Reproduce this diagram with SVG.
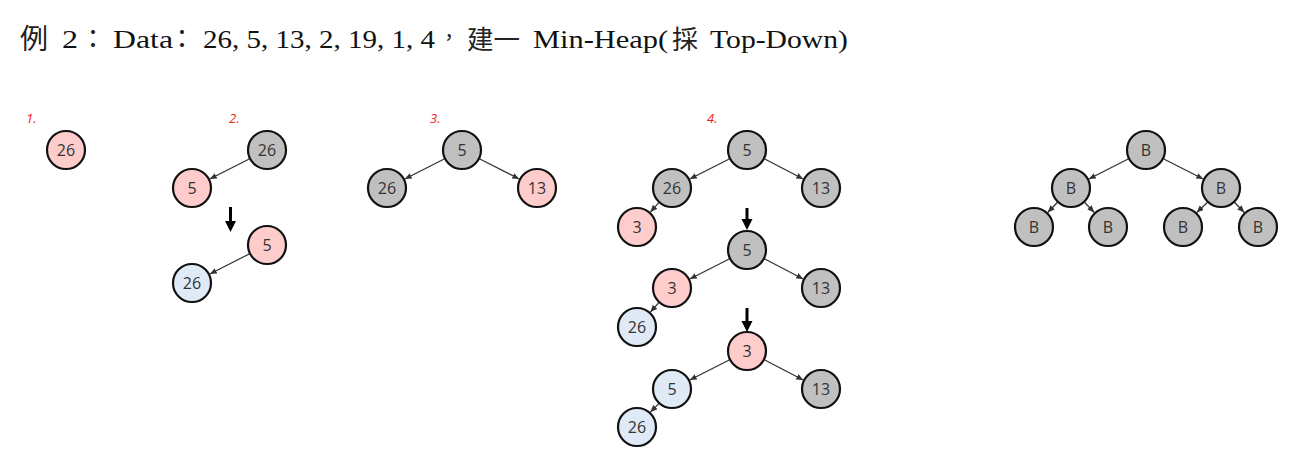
<svg xmlns="http://www.w3.org/2000/svg" width="1296" height="465" viewBox="0 0 1296 465">
<style>
.t{font-family:"Liberation Serif","Times New Roman",serif;font-size:26px;fill:#111}
.c{font-family:"Noto Sans CJK TC","Noto Sans CJK SC",sans-serif;fill:#222}
.lbl{font-family:"Open Sans","Noto Sans",sans-serif;font-size:13px;font-style:italic;fill:#f52020}
.n circle{stroke:#111;stroke-width:2.2}
.n text{font-family:"Open Sans","Noto Sans",sans-serif;font-size:16px;fill:#333;text-anchor:middle}
.pk{fill:#ffcccc}.gy{fill:#c0c0c0}.bl{fill:#dfeaf6}
.e{stroke:#333;stroke-width:1.3;fill:none;marker-end:url(#ah)}
.big{stroke:#000;stroke-width:3;fill:none}
</style>
<defs>
<marker id="ah" markerUnits="userSpaceOnUse" markerWidth="8" markerHeight="7" refX="7" refY="3" orient="auto"><path d="M0,0 L7,3 L0,6 z" fill="#333"/></marker>
</defs>
<rect width="1296" height="465" fill="#fff"/>
<g id="title">
<text class="c" x="20" y="49" font-size="28">例</text>
<text class="t" x="62" y="48" textLength="16" lengthAdjust="spacingAndGlyphs">2</text>
<text class="c" x="80" y="48" font-size="26">：</text>
<text class="t" x="113" y="48" textLength="60" lengthAdjust="spacingAndGlyphs">Data</text>
<text class="c" x="169" y="48" font-size="26">：</text>
<text class="t" x="203" y="48" textLength="232" lengthAdjust="spacingAndGlyphs">26, 5, 13, 2, 19, 1, 4</text>
<text class="c" x="439" y="45" font-size="20">，</text>
<text class="c" x="467" y="49" font-size="26" textLength="53" lengthAdjust="spacingAndGlyphs">建一</text>
<text class="t" x="533" y="48" textLength="135" lengthAdjust="spacingAndGlyphs">Min-Heap(</text>
<text class="c" x="672" y="49" font-size="26">採</text>
<text class="t" x="710" y="48" textLength="138" lengthAdjust="spacingAndGlyphs">Top-Down)</text>
</g>
<g id="labels">
<text class="lbl" x="26" y="123">1.</text>
<text class="lbl" x="229" y="123">2.</text>
<text class="lbl" x="430" y="123">3.</text>
<text class="lbl" x="707" y="123">4.</text>
</g>
<g id="connectors">
<line class="e" x1="249.2" y1="159" x2="209.8" y2="179"/>
<line class="e" x1="249.2" y1="254" x2="209.8" y2="274"/>
<line class="e" x1="444.2" y1="159" x2="404.8" y2="179"/>
<line class="e" x1="479.8" y1="159" x2="519.2" y2="179"/>
<line class="e" x1="729.2" y1="159" x2="689.8" y2="179"/>
<line class="e" x1="764.8" y1="159" x2="803.2" y2="179"/>
<line class="e" x1="658.6" y1="202.9" x2="650.4" y2="212.1"/>
<line class="e" x1="729.2" y1="259" x2="689.8" y2="279"/>
<line class="e" x1="764.8" y1="259" x2="803.2" y2="279"/>
<line class="e" x1="658.6" y1="302.9" x2="650.4" y2="312.1"/>
<line class="e" x1="729.2" y1="360" x2="689.8" y2="380"/>
<line class="e" x1="764.8" y1="360" x2="803.2" y2="380"/>
<line class="e" x1="658.6" y1="403.9" x2="650.4" y2="412.1"/>
<line class="e" x1="1128.2" y1="159" x2="1088.8" y2="179"/>
<line class="e" x1="1163.8" y1="159" x2="1203.2" y2="179"/>
<line class="e" x1="1057.3" y1="202.5" x2="1047.7" y2="212.5"/>
<line class="e" x1="1084.7" y1="202.5" x2="1094.3" y2="212.5"/>
<line class="e" x1="1207.3" y1="202.5" x2="1196.7" y2="212.5"/>
<line class="e" x1="1234.7" y1="202.5" x2="1244.3" y2="212.5"/>
<line class="big" x1="230.5" y1="207" x2="230.5" y2="223"/>
<polygon points="225,221 236,221 230.5,232" fill="#000"/>
<line class="big" x1="747" y1="208" x2="747" y2="221"/>
<polygon points="741.5,219 752.5,219 747,230" fill="#000"/>
<line class="big" x1="747" y1="308" x2="747" y2="323"/>
<polygon points="741.5,321 752.5,321 747,332" fill="#000"/>
</g>
<g id="s1-26" class="n"><circle class="pk" cx="66" cy="150" r="19"/><text x="66" y="155.5">26</text></g>
<g id="s2a-26" class="n"><circle class="gy" cx="267" cy="150" r="19"/><text x="267" y="155.5">26</text></g>
<g id="s2a-5" class="n"><circle class="pk" cx="192" cy="188" r="19"/><text x="192" y="193.5">5</text></g>
<g id="s2b-5" class="n"><circle class="pk" cx="267" cy="245" r="19"/><text x="267" y="250.5">5</text></g>
<g id="s2b-26" class="n"><circle class="bl" cx="192" cy="283" r="19"/><text x="192" y="288.5">26</text></g>
<g id="s3-5" class="n"><circle class="gy" cx="462" cy="150" r="19"/><text x="462" y="155.5">5</text></g>
<g id="s3-26" class="n"><circle class="gy" cx="387" cy="188" r="19"/><text x="387" y="193.5">26</text></g>
<g id="s3-13" class="n"><circle class="pk" cx="537" cy="188" r="19"/><text x="537" y="193.5">13</text></g>
<g id="s4a-5" class="n"><circle class="gy" cx="747" cy="150" r="19"/><text x="747" y="155.5">5</text></g>
<g id="s4a-26" class="n"><circle class="gy" cx="672" cy="188" r="19"/><text x="672" y="193.5">26</text></g>
<g id="s4a-13" class="n"><circle class="gy" cx="821" cy="188" r="19"/><text x="821" y="193.5">13</text></g>
<g id="s4a-3" class="n"><circle class="pk" cx="637" cy="227" r="19"/><text x="637" y="232.5">3</text></g>
<g id="s4b-5" class="n"><circle class="gy" cx="747" cy="250" r="19"/><text x="747" y="255.5">5</text></g>
<g id="s4b-3" class="n"><circle class="pk" cx="672" cy="288" r="19"/><text x="672" y="293.5">3</text></g>
<g id="s4b-13" class="n"><circle class="gy" cx="821" cy="288" r="19"/><text x="821" y="293.5">13</text></g>
<g id="s4b-26" class="n"><circle class="bl" cx="637" cy="327" r="19"/><text x="637" y="332.5">26</text></g>
<g id="s4c-3" class="n"><circle class="pk" cx="747" cy="351" r="19"/><text x="747" y="356.5">3</text></g>
<g id="s4c-5" class="n"><circle class="bl" cx="672" cy="389" r="19"/><text x="672" y="394.5">5</text></g>
<g id="s4c-13" class="n"><circle class="gy" cx="821" cy="389" r="19"/><text x="821" y="394.5">13</text></g>
<g id="s4c-26" class="n"><circle class="bl" cx="637" cy="427" r="19"/><text x="637" y="432.5">26</text></g>
<g id="b-root" class="n"><circle class="gy" cx="1146" cy="150" r="19"/><text x="1146" y="155.5">B</text></g>
<g id="b-l" class="n"><circle class="gy" cx="1071" cy="188" r="19"/><text x="1071" y="193.5">B</text></g>
<g id="b-r" class="n"><circle class="gy" cx="1221" cy="188" r="19"/><text x="1221" y="193.5">B</text></g>
<g id="b-ll" class="n"><circle class="gy" cx="1034" cy="227" r="19"/><text x="1034" y="232.5">B</text></g>
<g id="b-lr" class="n"><circle class="gy" cx="1108" cy="227" r="19"/><text x="1108" y="232.5">B</text></g>
<g id="b-rl" class="n"><circle class="gy" cx="1183" cy="227" r="19"/><text x="1183" y="232.5">B</text></g>
<g id="b-rr" class="n"><circle class="gy" cx="1258" cy="227" r="19"/><text x="1258" y="232.5">B</text></g>
</svg>
